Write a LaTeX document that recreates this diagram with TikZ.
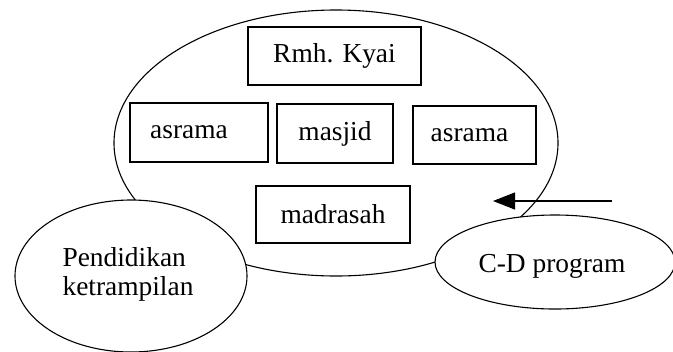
\documentclass[tikz,border=0pt]{standalone}
\usepackage{fontspec}
\setmainfont{Liberation Serif}
\usetikzlibrary{shapes.geometric,arrows.meta}
\begin{document}
\begin{tikzpicture}[x=1bp,y=-1bp,
  every node/.style={font=\fontsize{27.5}{29}\selectfont, inner sep=0pt},
  boxnode/.style={draw, line width=1.1bp, rectangle},
  ovalnode/.style={draw, line width=1.1bp, ellipse, fill=white, align=center},
  line width=1.1bp]
\useasboundingbox (0,0) rectangle (673,351);
% big ellipse
\node[draw, ellipse, line width=1.1bp, minimum width=444bp, minimum height=266bp] (big) at (336,143) {};
% boxes
\node[boxnode, minimum width=173bp, minimum height=58bp] (kyai) at (334.5,56) {Rmh. Kyai};
\node[boxnode, minimum width=138bp, minimum height=59bp] (asrama1) at (199,132.5) {\hspace*{-20bp}asrama};
\node[boxnode, minimum width=116bp, minimum height=59bp] (masjid) at (335,133.5) {masjid};
\node[boxnode, minimum width=123bp, minimum height=58bp] (asrama2) at (474.5,135) {\hspace*{-10bp}asrama};
\node[boxnode, minimum width=154bp, minimum height=57bp] (madrasah) at (333,214.5) {madrasah};
% small ellipses
\node[ovalnode, minimum width=232bp, minimum height=152bp] (pend) at (131,276) {};
\node[align=left] (pendtext) at (128,274) {Pendidikan\\ketrampilan};
\node[ovalnode, minimum width=240bp, minimum height=94bp] (cd) at (555,262) {};
\node (cdtext) at (552,266) {C-D program};
% arrow
\coordinate (arrs) at (612,201);
\coordinate (arre) at (493,201);
\draw[-{Triangle[length=22bp,width=17bp]}] (arrs) -- (arre);
\end{tikzpicture}
\end{document}
